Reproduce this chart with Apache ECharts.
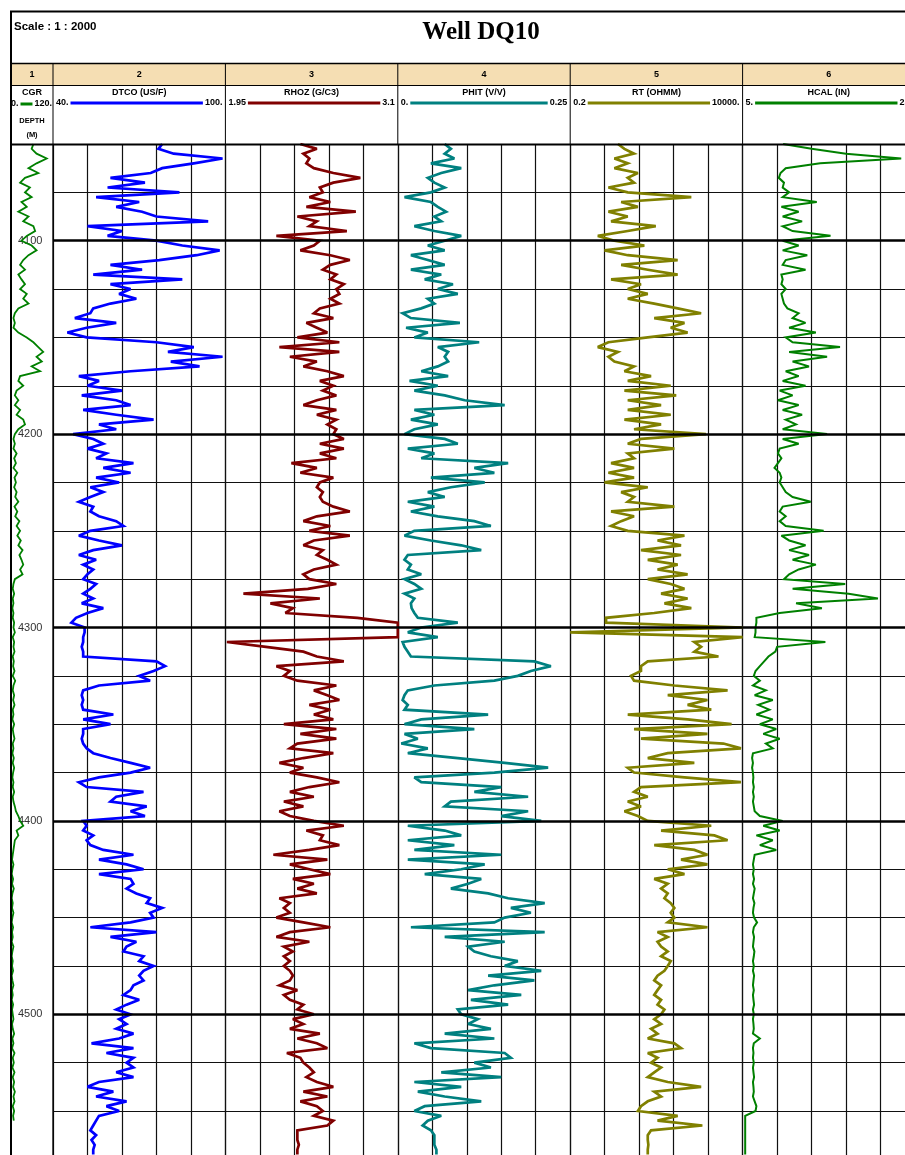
<!DOCTYPE html>
<html><head><meta charset="utf-8">
<script src="https://cdn.jsdelivr.net/npm/echarts@6/dist/echarts.min.js"></script>
<style>html,body{margin:0;padding:0;background:#fff;}#chart{width:905px;height:1155px;}</style>
</head><body><div id="chart"></div>
<script>
// ---------------- DATA ----------------
const depth = [
4050,4052.5,4055,4057.5,4060,4062.5,4065,4067.5,4070,4072.5,
4075,4077.5,4080,4082.5,4085,4087.5,4090,4092.5,4095,4097.5,
4100,4102.5,4105,4107.5,4110,4112.5,4115,4117.5,4120,4122.5,
4125,4127.5,4130,4132.5,4135,4137.5,4140,4142.5,4145,4147.5,
4150,4152.5,4155,4157.5,4160,4162.5,4165,4167.5,4170,4172.5,
4175,4177.5,4180,4182.5,4185,4187.5,4190,4192.5,4195,4197.5,
4200,4202.5,4205,4207.5,4210,4212.5,4215,4217.5,4220,4222.5,
4225,4227.5,4230,4232.5,4235,4237.5,4240,4242.5,4245,4247.5,
4250,4252.5,4255,4257.5,4260,4262.5,4265,4267.5,4270,4272.5,
4275,4277.5,4280,4282.5,4285,4287.5,4290,4292.5,4295,4297.5,
4300,4302.5,4305,4307.5,4310,4312.5,4315,4317.5,4320,4322.5,
4325,4327.5,4330,4332.5,4335,4337.5,4340,4342.5,4345,4347.5,
4350,4352.5,4355,4357.5,4360,4362.5,4365,4367.5,4370,4372.5,
4375,4377.5,4380,4382.5,4385,4387.5,4390,4392.5,4395,4397.5,
4400,4402.5,4405,4407.5,4410,4412.5,4415,4417.5,4420,4422.5,
4425,4427.5,4430,4432.5,4435,4437.5,4440,4442.5,4445,4447.5,
4450,4452.5,4455,4457.5,4460,4462.5,4465,4467.5,4470,4472.5,
4475,4477.5,4480,4482.5,4485,4487.5,4490,4492.5,4495,4497.5,
4500,4502.5,4505,4507.5,4510,4512.5,4515,4517.5,4520,4522.5,
4525,4527.5,4530,4532.5,4535,4537.5,4540,4542.5,4545,4547.5,
4550,4552.5,4555,4557.5,4560,4562.5,4565,4567.5,4570,4572.5
];
const cgr = [
64,59,73,102,73,50,78,40,26,54,
40,59,30,45,21,50,35,64,69,45,
30,59,73,50,35,26,40,21,30,40,
26,45,35,50,21,11,7,11,7,21,
45,64,78,92,73,88,59,83,26,21,
35,16,11,21,11,26,16,35,40,21,
11,7,11,7,16,9,14,7,18,10,
14,9,16,12,21,10,18,12,24,16,
26,18,28,21,33,24,30,35,26,33,
11,7,5,9,5,7,4,7,5,9,
7,11,5,9,7,10,5,8,6,10,
5,12,7,5,9,6,10,5,7,4,
9,5,7,10,5,7,4,8,5,9,
6,4,7,5,9,5,7,11,14,21,
26,35,16,21,11,9,7,5,3,7,
4,2,6,3,8,4,2,5,3,7,
4,2,6,3,5,2,7,4,2,5,
3,6,2,4,7,3,5,2,6,3,
5,7,3,5,9,4,7,3,10,5,
8,4,10,5,9,6,11,7,10,5,
9,6,8,null,null,null,null,null,null,null
];
const dtco = [
78,76.7,82,99,89,78,74,60,72,59,
84,55,70,62,71,76,94,52,64,59,
76,85,98,90,77,60,71,54,85,60,
67,63,69,60,54,53,47.6,62,51.7,45,
51.7,76,89,80,99,81,91,67,49,56,
52,64,50,62,67,50.5,62,75,56,62,
47,54,57.5,52,58.6,55,68,57.5,67,55,
63,53,57.5,53,49,54,53,56,62,64.5,
53,49,56,64,54,49,55,50.5,54,52,
50.5,55,53,50.5,54,50,57.5,52,48,46.4,
51,51,50.5,50.5,50,50.5,50.5,76,79,75,
70,73.8,56,50.5,50,50.5,50,50.5,61,50.5,
60,50.5,50.5,50,50.5,51.7,54,60,67,73.8,
67,56,49,51.7,71.5,62,60,72.6,67,72,
50.5,51.7,50.5,54,51.7,53,57.5,68,56,65.6,
71.5,56,67,68,65.6,69,73.8,72.6,78,73.8,
75,67,53,76,60,69,65.6,64.5,71.5,70,
75,71.5,70,71.5,68,67,64.5,70,65.6,62,
67,63,65.6,62,68,63,53.4,68,58.6,68,
65.6,68,62,68,56,52,61,55,65.6,58.6,
63,56,55,54,53,55,53.4,54.5,54,54
];
const rhoz = [
2.45,2.56,2.47,2.51,2.49,2.54,2.67,2.85,2.67,2.58,
2.60,2.51,2.65,2.49,2.82,2.43,2.56,2.51,2.76,2.29,
2.58,2.54,2.45,2.65,2.78,2.65,2.60,2.69,2.65,2.74,
2.69,2.71,2.65,2.71,2.58,2.54,2.67,2.49,2.56,2.63,
2.43,2.71,2.31,2.71,2.38,2.56,2.47,2.63,2.74,2.58,
2.67,2.60,2.69,2.56,2.47,2.69,2.56,2.69,2.63,2.69,
2.67,2.74,2.58,2.74,2.58,2.69,2.39,2.56,2.45,2.67,
2.58,2.56,2.60,2.58,2.60,2.67,2.78,2.56,2.47,2.65,
2.51,2.78,2.54,2.47,2.60,2.56,2.63,2.69,2.54,2.47,
2.51,2.69,2.50,2.07,2.58,2.25,2.40,2.35,2.83,3.10,
3.10,3.10,3.10,1.96,2.22,2.47,2.56,2.74,2.29,2.38,
2.34,2.43,2.69,2.54,2.63,2.71,2.51,2.65,2.54,2.67,
2.34,2.69,2.45,2.69,2.43,2.38,2.67,2.47,2.31,2.47,
2.38,2.56,2.71,2.51,2.38,2.54,2.34,2.47,2.31,2.38,
2.54,2.74,2.49,2.60,2.58,2.71,2.51,2.27,2.63,2.38,
2.51,2.65,2.40,2.54,2.43,2.56,2.31,2.38,2.34,2.38,
2.29,2.47,2.65,2.38,2.29,2.51,2.34,2.40,2.34,2.38,
2.34,2.38,2.40,2.38,2.31,2.43,2.34,2.38,2.47,2.43,
2.54,2.40,2.47,2.38,2.58,2.43,2.56,2.63,2.36,2.45,
2.47,2.51,2.54,2.49,2.56,2.67,2.47,2.63,2.45,2.56,
2.60,2.54,2.67,2.63,2.43,2.43,2.43,2.44,2.43,2.43
];
const phit = [
0.068,0.077,0.068,0.082,0.048,0.092,0.063,0.0435,0.053,0.068,
0.048,0.0097,0.048,0.058,0.070,0.053,0.063,0.024,0.053,0.092,
0.068,0.0435,0.068,0.019,0.0435,0.068,0.019,0.063,0.039,0.080,
0.058,0.087,0.0435,0.053,0.034,0.007,0.019,0.090,0.012,0.0435,
0.024,0.118,0.058,0.073,0.068,0.073,0.058,0.034,0.073,0.017,
0.058,0.024,0.068,0.097,0.155,0.024,0.053,0.019,0.058,0.024,
0.0097,0.068,0.087,0.0145,0.053,0.034,0.160,0.111,0.140,0.048,
0.126,0.077,0.0435,0.068,0.0145,0.053,0.019,0.058,0.111,0.135,
0.024,0.0097,0.048,0.092,0.121,0.0145,0.0097,0.019,0.0145,0.034,
0.0097,0.024,0.034,0.0097,0.024,0.019,0.02,0.024,0.029,0.087,
0.034,0.0145,0.058,0.007,0.0097,0.0145,0.019,0.198,0.222,0.193,
0.174,0.140,0.053,0.0145,0.0097,0.007,0.0145,0.0097,0.131,0.034,
0.0097,0.111,0.0097,0.029,0.005,0.0435,0.0145,0.087,0.155,0.218,
0.140,0.024,0.034,0.150,0.111,0.189,0.077,0.068,0.189,0.150,
0.208,0.0145,0.068,0.092,0.0145,0.082,0.024,0.150,0.0145,0.126,
0.092,0.039,0.121,0.102,0.077,0.131,0.160,0.213,0.164,0.193,
0.155,0.140,0.019,0.213,0.068,0.155,0.102,0.111,0.135,0.174,
0.155,0.208,0.131,0.198,0.140,0.102,0.179,0.106,0.160,0.087,
0.092,0.116,0.102,0.135,0.068,0.140,0.024,0.048,0.155,0.164,
0.111,0.135,0.063,0.150,0.024,0.092,0.029,0.068,0.121,0.039,
0.024,0.063,0.0435,0.036,0.048,0.053,0.053,0.053,0.056,0.056
];
const rt = [
4.0,6.0,11,3.2,7.4,3.2,14,7.4,11,2.2,
7.4,400,4.9,14,2.2,7.4,2.6,43,7.4,1.13,
3.2,21,1.72,7.4,170,4.9,26,170,2.6,17,
7.4,26,7.4,39,170,740,39,260,110,317,
26,2.2,1.13,4.0,2.2,3.2,11,6.0,32,7.4,
110,6.0,155,7.4,60,7.4,110,6.0,60,11,
1000,17,7.4,138,7.4,11,2.6,11,2.2,11,
1.72,26,4.9,11,7.4,138,2.6,11,4.9,2.6,
7.4,260,48,210,17,210,26,170,48,317,
26,110,260,60,317,74,400,39,1.9,1.9,
10000,0.2,10000,483,740,483,2200,26,17,17,
9.1,11,138,3900,91,1100,317,1400,7.4,317,
5000,11,1100,17,3000,9000,91,26,483,7.4,
11,260,9000,17,11,26,7.4,17,6.0,14,
26,1400,60,1700,3900,39,483,1100,210,1100,
91,260,39,91,60,91,74,110,138,110,
138,91,1100,48,91,48,60,91,60,110,
91,74,48,39,60,48,39,60,48,74,
60,39,60,32,48,26,138,210,26,48,
32,60,39,26,91,740,39,60,26,17,
14,170,48,800,32,26,26,27,26,26
];
const hcal = [
9.7,13,17,23.4,14,10,9.4,9.2,9.8,9.65,
10.4,9.65,13.6,9.5,11.5,9.65,11.9,9.65,10.8,15.2,
9.65,11.5,9.65,12.5,10,9.65,12.3,9.5,9.65,9.5,
10,9.5,9.65,9.8,10.2,11.5,10.8,12.3,10.4,13.5,
10,10.8,16.3,10.4,14.8,10.8,12.7,10,11.5,9.65,
12.3,9.3,10.8,9.1,11.5,9.65,11.9,10,11.2,9.65,
14.8,9.65,11.5,9.3,9.1,9.5,9.1,8.7,9.3,9.5,
9.3,9.65,10,10.8,12.9,9.65,9.3,10,9.3,10,
14.4,9.5,10.4,12.3,10.4,12.7,10.8,13.5,11.5,10.4,
9.8,16.9,10.8,17.3,20.7,11.2,14.2,9.3,6.6,6.6,
6.5,6.5,6.4,14.6,9.0,8.8,8.0,7.5,7.0,6.5,
6.3,7.0,6.2,7.7,6.4,8.5,6.8,8.1,6.6,8.5,
7.0,8.9,7.4,9.3,7.7,8.5,6.2,6.1,6.2,6.1,
6.2,6.25,6.2,6.3,6.2,6.3,6.2,6.3,6.4,7.0,
9.65,7.4,9.3,6.6,8.5,7.0,8.9,6.4,6.3,6.2,
6.3,6.2,6.33,6.2,6.4,6.3,6.2,6.37,6.26,6.2,
6.33,6.68,6.3,6.2,6.33,6.26,6.2,6.37,6.3,6.2,
6.3,6.2,6.33,6.26,6.2,6.3,6.2,6.26,6.33,6.2,
6.3,6.2,6.26,6.3,6.2,7.0,6.3,6.2,6.26,6.2,
6.3,6.2,6.26,6.33,6.2,6.26,6.3,6.2,6.4,6.6,
6.5,5.3,5.3,5.3,5.3,5.3,5.3,5.3,5.3,5.3
];
const majorDepths = [4100, 4200, 4300, 4400, 4500];
const trackNumbers = ['1', '2', '3', '4', '5', '6'];
const curveNames = ['CGR', 'DTCO (US/F)', 'RHOZ (G/C3)', 'PHIT (V/V)', 'RT (OHMM)', 'HCAL (IN)'];
const scaleMin = [0, 40, 1.95, 0, 0.2, 5];
const scaleMax = [120, 100, 3.1, 0.25, 10000, 25];
const scaleMinLabels = ['0.', '40.', '1.95', '0.', '0.2', '5.'];
const scaleMaxLabels = ['120.', '100.', '3.1', '0.25', '10000.', '25.'];
const curveValues = [cgr, dtco, rhoz, phit, rt, hcal];
const curveColors = ['#008000', '#0000ff', '#800000', '#008080', '#808000', '#008000'];

// ---------------- LAYOUT ----------------
const TRACK_LEFT = [11, 53, 225.4, 397.8, 570.2, 742.6];
const TRACK_W = [42, 172.4, 172.4, 172.4, 172.4, 172.4];
const CURVE_W = [1.8, 2.7, 2.7, 2.7, 2.7, 2];
const PLOT_TOP = 144, PLOT_H = 1063.7, DEPTH_MIN = 4050, DEPTH_MAX = 4600;
const SANS = '"Liberation Sans", Arial, sans-serif';
const SERIF = '"Liberation Serif", "Times New Roman", serif';
const GRID_COLOR = '#111';

const chart = echarts.init(document.getElementById('chart'), null, {renderer: 'canvas'});
const grids = [], xAxes = [], yAxes = [], series = [];

curveValues.forEach((vals, t) => {
  grids.push({left: TRACK_LEFT[t], top: PLOT_TOP, width: TRACK_W[t], height: PLOT_H,
              containLabel: false, outerBoundsMode: 'none'});
  yAxes.push({
    type: 'value', gridIndex: t, inverse: true, min: DEPTH_MIN, max: DEPTH_MAX, interval: 25,
    axisLine: {show: false}, axisTick: {show: false},
    axisLabel: t === 0 ? {
      show: true, inside: true, margin: 7, fontSize: 11, color: '#333', fontFamily: SANS,
      formatter: v => majorDepths.indexOf(v) >= 0 ? String(v) : ''
    } : {show: false},
    splitLine: {show: t > 0, lineStyle: {color: GRID_COLOR, width: 1.2}}
  });
  const curveAxis = xAxes.length;
  xAxes.push(t === 4
    ? {type: 'log', logBase: 10, gridIndex: t, min: scaleMin[t], max: scaleMax[t], show: false}
    : {type: 'value', gridIndex: t, min: scaleMin[t], max: scaleMax[t], show: false});
  if (t > 0) {
    xAxes.push({type: 'value', gridIndex: t, min: 0, max: 5, interval: 1,
      axisLine: {show: false}, axisTick: {show: false}, axisLabel: {show: false},
      splitLine: {show: true, lineStyle: {color: GRID_COLOR, width: 1.2}}});
  }
  const data = [];
  depth.forEach((d, i) => { if (vals[i] !== null && vals[i] !== undefined) data.push([vals[i], d]); });
  const s = {
    type: 'line', xAxisIndex: curveAxis, yAxisIndex: t, data: data,
    symbol: 'none', showSymbol: false, clip: true, animation: false, silent: true, z: 3,
    lineStyle: {color: curveColors[t], width: CURVE_W[t], join: 'miter', miterLimit: 3}
  };
  if (t > 0) {
    s.markLine = {silent: true, symbol: ['none', 'none'], animation: false, label: {show: false},
      lineStyle: {color: '#000', width: 2.5, type: 'solid'},
      data: majorDepths.map(d => ({yAxis: d}))};
  }
  series.push(s);
});

// ---------------- HEADER ----------------
const g = [];
const ctx = document.createElement('canvas').getContext('2d');
function tw(s, font) { ctx.font = font; return ctx.measureText(s).width; }
function line(x1, y1, x2, y2, w, c) {
  g.push({type: 'line', silent: true, z: 100, shape: {x1, y1, x2, y2}, style: {stroke: c || '#000', lineWidth: w || 1}});
}
function text(x, y, s, font, align, color) {
  g.push({type: 'text', silent: true, z: 101, x: x, y: y,
    style: {text: s, font: font, fill: color || '#000', textAlign: align || 'center',
            textVerticalAlign: 'middle', align: align || 'center', verticalAlign: 'middle'}});
}
g.push({type: 'rect', silent: true, z: 99, shape: {x: 11, y: 63.5, width: 894, height: 22}, style: {fill: '#F5DEB3'}});
line(10, 11.5, 905, 11.5, 2);
line(11, 63.5, 905, 63.5, 1.5);
line(11, 85.5, 905, 85.5, 1);
line(11, 144.5, 905, 144.5, 2);
line(11, 11, 11, 1155, 2);
TRACK_LEFT.slice(1).forEach(x => line(x, 63.5, x, 144.5, 1));
line(53, 144, 53, 1155, 1.3);

text(14, 27, 'Scale : 1 : 2000', 'bold 11.5px ' + SANS, 'left');
text(481, 33, 'Well DQ10', 'bold 25px ' + SERIF, 'center');

const F = 'bold 9px ' + SANS;
const FS = 'bold 7.5px ' + SANS;
trackNumbers.forEach((n, t) => {
  const cx = TRACK_LEFT[t] + TRACK_W[t] / 2;
  text(cx, 74.5, n, 'bold 9px ' + SANS, 'center');
  text(cx, 93, curveNames[t], F, 'center');
  const l = TRACK_LEFT[t], r = TRACK_LEFT[t] + TRACK_W[t];
  if (t === 0) {
    text(l, 104, scaleMinLabels[t], F, 'left');
    text(r - 1, 104, scaleMaxLabels[t], F, 'right');
    const a = l + tw(scaleMinLabels[t], F) + 2, b = r - 1 - tw(scaleMaxLabels[t], F) - 2;
    line(a, 104, b, 104, 3, curveColors[t]);
    text(l + TRACK_W[t] / 2, 121, 'DEPTH', FS, 'center');
    text(l + TRACK_W[t] / 2, 135, '(M)', FS, 'center');
  } else {
    text(l + 3, 103, scaleMinLabels[t], F, 'left');
    text(r - 3, 103, scaleMaxLabels[t], F, 'right');
    const a = l + 3 + tw(scaleMinLabels[t], F) + 2, b = r - 3 - tw(scaleMaxLabels[t], F) - 2;
    line(a, 103, b, 103, 3, curveColors[t]);
  }
});

chart.setOption({
  animation: false,
  backgroundColor: '#ffffff',
  grid: grids, xAxis: xAxes, yAxis: yAxes, series: series,
  graphic: {elements: g}
});
</script></body></html>
